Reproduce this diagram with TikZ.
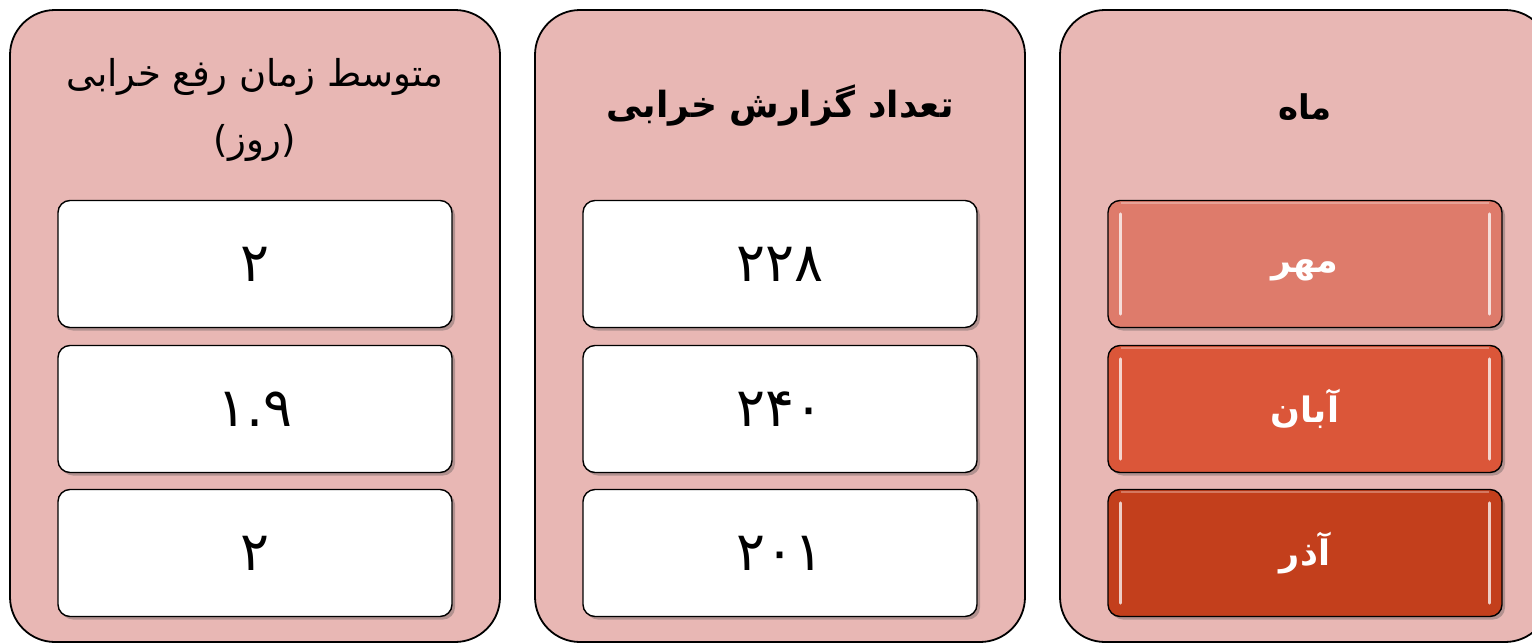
\documentclass[tikz,border=0pt]{standalone}
\usepackage{fontspec}
\usetikzlibrary{shadows}
\TeXXeTstate=1
\newfontfamily\arabicfont[Script=Arabic]{DejaVu Sans}
\definecolor{outerfill}{HTML}{E8B7B4}
\definecolor{mehr}{HTML}{DE7B6B}
\definecolor{aban}{HTML}{DB5639}
\definecolor{azar}{HTML}{C33F1C}
\tikzset{
  outerbox/.style={draw=black, line width=1.8pt, fill=outerfill, rounded corners=45pt,
    minimum width=490pt, minimum height=632pt, inner sep=0pt},
  cellbox/.style={draw=black, line width=1.4pt, fill=white, rounded corners=12pt,
    minimum width=394pt, minimum height=127pt, inner sep=0pt,
    drop shadow={shadow xshift=3pt, shadow yshift=-3pt, opacity=0.35, fill=black!70},
    font=\arabicfont\fontsize{54}{60}\selectfont},
  monthbox/.style={draw=black, line width=1.4pt, fill=#1, rounded corners=12pt,
    minimum width=394pt, minimum height=127pt, inner sep=0pt, text=white,
    drop shadow={shadow xshift=3pt, shadow yshift=-3pt, opacity=0.35, fill=black!70},
    font=\arabicfont\bfseries\fontsize{35}{42}\selectfont},
  hdr/.style={font=\arabicfont\bfseries\fontsize{#1}{42}\selectfont, align=center},
  hdrreg/.style={font=\arabicfont\fontsize{37}{66}\selectfont, align=center},
  gloss/.style={white, opacity=0.75, line width=3pt, line cap=round}
}
\begin{document}
\begin{tikzpicture}[x=1pt,y=-1pt]
\useasboundingbox (0,0) rectangle (1532,643);
\clip (0,0) rectangle (1532,643);
% outer columns
\node[outerbox] (colL) at (255,326) {};
\node[outerbox] (colM) at (780,326) {};
\node[outerbox] (colR) at (1305,326) {};
% headers
\node[hdrreg] (hL) at (255,110) {\beginR متوسط زمان رفع خرابی\endR\\\beginR (روز)\endR};
\node[hdr=36] (hM) at (780,106) {\beginR تعداد گزارش خرابی\endR};
\node[hdr=34] (hR) at (1305,107) {\beginR ماه\endR};
% left column cells
\node[cellbox] (l1) at (255,264) {۲};
\node[cellbox] (l2) at (255,409) {۱.۹};
\node[cellbox] (l3) at (255,553) {۲};
% middle column cells
\node[cellbox] (m1) at (780,264) {۲۲۸};
\node[cellbox] (m2) at (780,409) {۲۴۰};
\node[cellbox] (m3) at (780,553) {۲۰۱};
% right column month cells
\node[monthbox=mehr] (r1) at (1305,264) {\raisebox{-8pt}[0pt][0pt]{\beginR مهر\endR}};
\node[monthbox=aban] (r2) at (1305,409) {\beginR آبان\endR};
\node[monthbox=azar] (r3) at (1305,553) {\beginR آذر\endR};
% gloss highlights
\foreach \n in {r1,r2,r3}{
  \draw[gloss] ([xshift=13pt,yshift=-14pt]\n.north west) -- ([xshift=13pt,yshift=14pt]\n.south west);
  \draw[gloss] ([xshift=-13pt,yshift=-14pt]\n.north east) -- ([xshift=-13pt,yshift=14pt]\n.south east);
  \draw[white, opacity=0.3, line width=2pt] ([xshift=14pt,yshift=-3pt]\n.north west) -- ([xshift=-14pt,yshift=-3pt]\n.north east);
}
\end{tikzpicture}
\end{document}
